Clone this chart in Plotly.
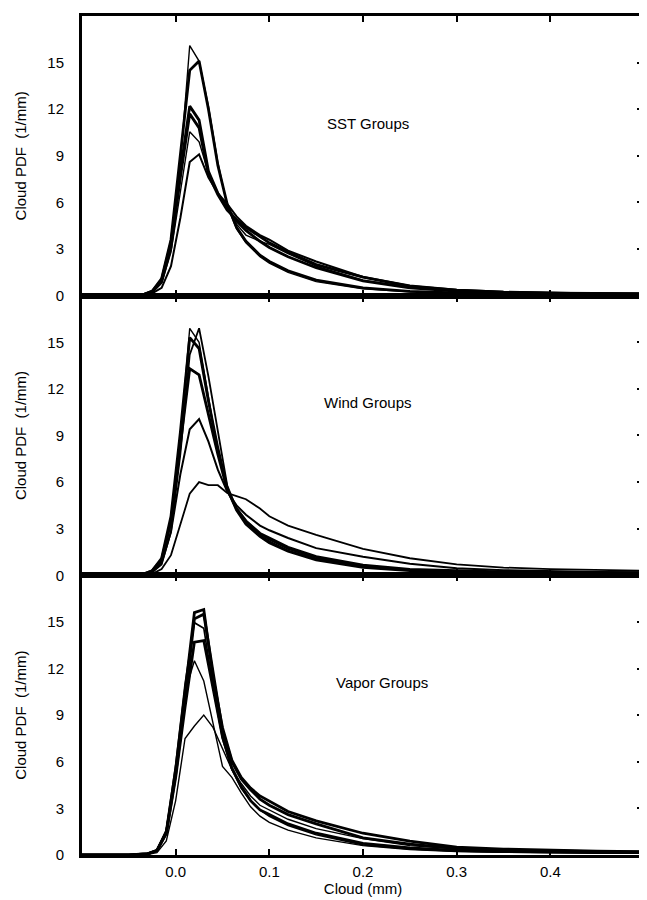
import plotly.graph_objects as go
from plotly.subplots import make_subplots

# ---------------- data ----------------
x_sst = [-0.10, -0.05, -0.035, -0.025, -0.015, -0.005, 0.005, 0.015, 0.025, 0.035, 0.045,
         0.055, 0.065, 0.075, 0.09, 0.10, 0.12, 0.15, 0.20, 0.25, 0.30, 0.35, 0.40, 0.45, 0.50]
sst_1 = [0, 0.01, 0.05, 0.25, 0.9, 3.2, 8.5, 16.1, 15.1, 12.2, 8.6, 5.8, 4.3, 3.4, 2.5, 2.1, 1.5, 0.9, 0.45, 0.25, 0.17, 0.13, 0.11, 0.10, 0.10]
sst_2 = [0, 0.01, 0.06, 0.30, 1.1, 3.6, 9.0, 14.5, 15.1, 12.0, 8.4, 5.9, 4.4, 3.5, 2.6, 2.2, 1.6, 1.0, 0.50, 0.28, 0.18, 0.13, 0.11, 0.10, 0.10]
sst_3 = [0, 0.01, 0.05, 0.28, 1.0, 3.4, 8.0, 12.2, 11.3, 8.0, 6.6, 5.6, 4.8, 4.2, 3.5, 3.1, 2.5, 1.8, 0.95, 0.50, 0.30, 0.20, 0.15, 0.12, 0.10]
sst_4 = [0, 0.01, 0.05, 0.25, 0.9, 3.1, 7.6, 11.7, 10.8, 7.8, 6.5, 5.5, 4.9, 4.4, 3.8, 3.4, 2.8, 2.0, 1.2, 0.60, 0.35, 0.22, 0.16, 0.13, 0.12]
sst_5 = [0, 0.01, 0.04, 0.20, 0.8, 2.8, 6.8, 10.55, 9.9, 7.9, 6.6, 5.7, 4.6, 3.9, 3.5, 3.3, 2.7, 1.9, 1.0, 0.55, 0.30, 0.20, 0.15, 0.12, 0.10]
sst_6 = [0, 0.005, 0.03, 0.15, 0.5, 1.9, 5.0, 8.6, 9.1, 7.6, 6.6, 5.9, 5.1, 4.5, 3.9, 3.6, 2.9, 2.2, 1.2, 0.65, 0.38, 0.25, 0.18, 0.14, 0.12]

x_wind = [-0.10, -0.05, -0.035, -0.025, -0.015, -0.005, 0.005, 0.015, 0.025, 0.035, 0.045,
          0.055, 0.065, 0.075, 0.09, 0.10, 0.12, 0.15, 0.20, 0.25, 0.30, 0.35, 0.40, 0.45, 0.50]
wind_1 = [0, 0.01, 0.05, 0.25, 0.9, 3.3, 8.8, 15.9, 15.0, 11.5, 8.0, 5.6, 4.2, 3.4, 2.6, 2.2, 1.6, 1.05, 0.55, 0.33, 0.25, 0.20, 0.18, 0.16, 0.15]
wind_2 = [0, 0.01, 0.04, 0.20, 0.7, 2.8, 7.8, 14.2, 15.9, 12.8, 9.3, 5.8, 4.3, 3.5, 2.7, 2.3, 1.7, 1.1, 0.60, 0.35, 0.26, 0.20, 0.18, 0.16, 0.15]
wind_3 = [0, 0.01, 0.06, 0.30, 1.1, 3.8, 9.2, 15.3, 14.6, 11.2, 8.2, 5.6, 4.2, 3.3, 2.5, 2.1, 1.55, 1.0, 0.52, 0.30, 0.22, 0.18, 0.16, 0.15, 0.14]
wind_4 = [0, 0.01, 0.06, 0.30, 1.0, 3.5, 8.6, 13.3, 12.9, 10.3, 7.8, 5.5, 4.3, 3.5, 2.7, 2.4, 1.8, 1.2, 0.65, 0.38, 0.28, 0.22, 0.19, 0.17, 0.16]
wind_5 = [0, 0.01, 0.04, 0.20, 0.8, 2.8, 6.5, 9.4, 10.05, 8.6, 6.8, 5.4, 4.5, 3.9, 3.2, 2.9, 2.4, 1.75, 1.2, 0.75, 0.45, 0.33, 0.27, 0.22, 0.20]
wind_6 = [0, 0.005, 0.02, 0.10, 0.4, 1.3, 3.2, 5.25, 6.0, 5.8, 5.8, 5.3, 5.1, 4.9, 4.3, 3.8, 3.2, 2.6, 1.7, 1.1, 0.70, 0.50, 0.40, 0.33, 0.30]

x_vapor = [-0.10, -0.05, -0.03, -0.02, -0.01, 0.0, 0.01, 0.02, 0.03, 0.04, 0.05,
           0.06, 0.07, 0.08, 0.09, 0.10, 0.12, 0.15, 0.20, 0.25, 0.30, 0.35, 0.40, 0.45, 0.50]
vapor_1 = [0, 0.01, 0.08, 0.30, 1.5, 5.5, 10.5, 15.6, 15.8, 11.4, 8.2, 6.1, 5.0, 4.3, 3.8, 3.45, 2.8, 2.2, 1.4, 0.90, 0.50, 0.38, 0.30, 0.25, 0.22]
vapor_2 = [0, 0.01, 0.07, 0.28, 1.4, 5.2, 10.0, 15.2, 15.5, 11.6, 8.0, 6.0, 4.9, 4.2, 3.6, 3.2, 2.6, 2.0, 1.1, 0.70, 0.42, 0.32, 0.26, 0.22, 0.20]
vapor_3 = [0, 0.01, 0.07, 0.28, 1.4, 5.0, 9.5, 13.7, 13.8, 10.6, 7.6, 5.6, 4.4, 3.5, 2.9, 2.6, 2.0, 1.4, 0.75, 0.45, 0.30, 0.22, 0.18, 0.16, 0.15]
vapor_4 = [0, 0.01, 0.08, 0.30, 1.5, 5.5, 10.5, 12.5, 11.2, 8.4, 5.7, 5.0, 4.0, 3.1, 2.5, 2.1, 1.6, 1.1, 0.60, 0.35, 0.22, 0.18, 0.15, 0.14, 0.13]
vapor_5 = [0, 0.01, 0.08, 0.30, 1.6, 5.8, 11.0, 14.95, 14.6, 10.8, 7.5, 5.5, 4.3, 3.5, 2.9, 2.5, 1.9, 1.3, 0.65, 0.40, 0.25, 0.19, 0.16, 0.14, 0.13]
vapor_6 = [0, 0.005, 0.04, 0.15, 0.9, 3.5, 7.5, 8.3, 9.0, 8.2, 6.8, 5.5, 4.6, 3.8, 3.2, 2.9, 2.3, 1.7, 1.05, 0.60, 0.38, 0.28, 0.22, 0.18, 0.16]

y_ticks = [0, 3, 6, 9, 12, 15]
x_ticks = [0.0, 0.1, 0.2, 0.3, 0.4]
x_tick_labels = ["0.0", "0.1", "0.2", "0.3", "0.4"]
panel_labels = ["SST Groups", "Wind Groups", "Vapor Groups"]

# ---------------- figure ----------------
FONT = "Liberation Sans, Arial, Helvetica, sans-serif"
THICK, THIN = 2.8, 1.4

panels = [
    (x_sst, [(sst_1, THIN), (sst_2, THICK), (sst_3, THICK), (sst_4, THICK), (sst_5, THIN), (sst_6, 2.0)]),
    (x_wind, [(wind_1, THIN), (wind_2, THIN + 0.4), (wind_3, THICK), (wind_4, THICK), (wind_5, 2.0), (wind_6, 1.8)]),
    (x_vapor, [(vapor_1, THICK), (vapor_2, THICK), (vapor_3, THICK), (vapor_4, THIN), (vapor_5, THIN + 0.3), (vapor_6, THIN)]),
]

fig = make_subplots(rows=3, cols=1, shared_xaxes=True, vertical_spacing=0)

for r, (xs, curves) in enumerate(panels, start=1):
    for ys, w in curves:
        fig.add_trace(go.Scatter(x=xs, y=ys, mode="lines",
                                 line=dict(color="black", width=w),
                                 showlegend=False, hoverinfo="skip"), row=r, col=1)

for r in range(1, 4):
    fig.update_xaxes(range=[-0.1, 0.5], tickvals=x_ticks, ticktext=x_tick_labels,
                     ticks="inside", ticklen=6, tickwidth=1.5, tickcolor="black",
                     mirror="ticks", showline=True, linewidth=3, linecolor="black",
                     showgrid=False, zeroline=False, automargin=False,
                     tickfont=dict(family=FONT, size=15, color="black"),
                     row=r, col=1)
    fig.update_yaxes(range=[0, 18], tickvals=y_ticks, ticks="",
                     showline=True, linewidth=3, linecolor="black", mirror=True,
                     showgrid=False, zeroline=False, ticklabelstandoff=12, automargin=False,
                     tickfont=dict(family=FONT, size=15, color="black"),
                     title=dict(text="Cloud PDF  (1/mm)", standoff=18,
                                font=dict(family=FONT, size=15, color="black")),
                     row=r, col=1)

fig.update_xaxes(title=dict(text="Cloud (mm)", standoff=4,
                            font=dict(family=FONT, size=15, color="black")),
                 ticklabelstandoff=1, row=3, col=1)

# right-side inner ticks (overlay axes, each carrying an empty trace so it is drawn)
for i, (ya, xa) in enumerate([("y", "x"), ("y2", "x2"), ("y3", "x3")], start=4):
    fig.layout["yaxis%d" % i] = dict(overlaying=ya, anchor=xa,
                                     side="right", range=[0, 18], tickvals=y_ticks[1:],
                                     ticks="inside", ticklen=7, tickwidth=1.5, tickcolor="black",
                                     showticklabels=False, showline=False, showgrid=False,
                                     zeroline=False, automargin=False)
    fig.add_trace(go.Scatter(x=[], y=[], xaxis=xa, yaxis="y%d" % i, mode="lines",
                             showlegend=False, hoverinfo="skip"))

for i, txt in enumerate(panel_labels, start=1):
    ref = "" if i == 1 else str(i)
    fig.add_annotation(x=0.205 if i < 3 else 0.22, y=11.1, xref="x" + ref, yref="y" + ref,
                       text=txt, showarrow=False,
                       font=dict(family=FONT, size=15, color="black"))

# the page body has an 8 px margin, so the figure is sized to fit the window
fig.update_layout(width=639, height=892, paper_bgcolor="white", plot_bgcolor="white",
                  margin=dict(l=74, r=3, t=8, b=45), showlegend=False)

fig.write_html("out.html")
